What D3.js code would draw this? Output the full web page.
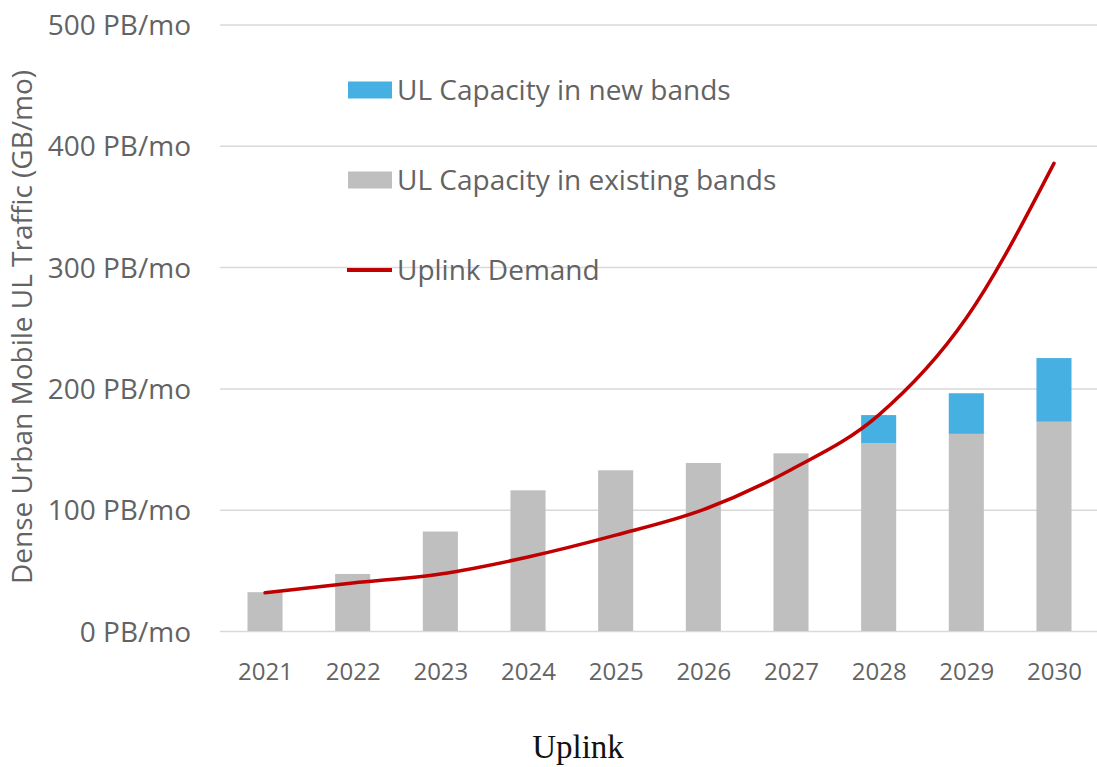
<!DOCTYPE html>
<html>
<head>
<meta charset="utf-8">
<script src="https://cdn.jsdelivr.net/npm/d3@7"></script>
<style>
  html, body { margin: 0; padding: 0; background: #fff; }
  svg { display: block; }
</style>
</head>
<body>
<svg id="chart" width="1097" height="767"></svg>
<script>
// ---- data ----
const years = ["2021","2022","2023","2024","2025","2026","2027","2028","2029","2030"];
const existingBands = [32, 47, 82, 116, 132.5, 138.5, 146.5, 155, 162.5, 172.5];
const newBands      = [0, 0, 0, 0, 0, 0, 0, 23, 33.5, 52.5];
const uplinkDemand  = [31.5, 39.5, 47, 61, 79, 100, 133, 178, 258, 385.5];
const yTicks = [0, 100, 200, 300, 400, 500];
const legendLabels = ["UL Capacity in new bands", "UL Capacity in existing bands", "Uplink Demand"];
const yAxisTitle = "Dense Urban Mobile UL Traffic (GB/mo)";
const chartCaption = "Uplink";

// ---- styling ----
const colGray = "#bfbfbf", colBlue = "#45b0e1", colRed = "#c00000";
const textCol = "#636363", gridCol = "#d9d9d9";
const font = "'Open Sans', 'Lato', sans-serif";

const svg = d3.select("#chart");
const x = d3.scalePoint().domain(years).range([221.2, 1097.8]).padding(0.5);
const y = d3.scaleLinear().domain([0, 500]).range([631, 24.5]);
const bw = x.step() * 0.4;

// gridlines + y tick labels via axis
const yAxis = d3.axisLeft(y).tickValues(yTicks)
  .tickSize(-(1097 - 220)).tickPadding(29)
  .tickFormat(d => d + " PB/mo");
const gy = svg.append("g").attr("transform", "translate(220,0)").call(yAxis);
gy.select(".domain").remove();
gy.selectAll(".tick line").attr("stroke", gridCol).attr("stroke-width", 1.5);
gy.selectAll(".tick text").attr("fill", textCol).style("font-family", font)
  .style("font-size", "28px").attr("dy", "0.36em");

// x axis labels
const xAxis = d3.axisBottom(x).tickSize(0).tickPadding(0);
const gx = svg.append("g").attr("transform", "translate(0,631)").call(xAxis);
gx.select(".domain").remove();
gx.selectAll(".tick text").attr("fill", textCol).style("font-family", font)
  .style("font-size", "24px").attr("y", 49).attr("dy", 0);

// bars
const data = years.map((yr, i) => ({yr, ex: existingBands[i], nw: newBands[i], dm: uplinkDemand[i]}));
svg.append("g").selectAll("rect").data(data).join("rect")
  .attr("x", d => x(d.yr) - bw / 2).attr("width", bw)
  .attr("y", d => y(d.ex)).attr("height", d => y(0) - y(d.ex))
  .attr("fill", colGray);
svg.append("g").selectAll("rect").data(data.filter(d => d.nw > 0)).join("rect")
  .attr("x", d => x(d.yr) - bw / 2).attr("width", bw)
  .attr("y", d => y(d.ex + d.nw)).attr("height", d => y(d.ex) - y(d.ex + d.nw))
  .attr("fill", colBlue);

// demand line
const line = d3.line().x(d => x(d.yr)).y(d => y(d.dm)).curve(d3.curveMonotoneX);
svg.append("path").datum(data).attr("d", line)
  .attr("fill", "none").attr("stroke", colRed).attr("stroke-width", 3.5)
  .attr("stroke-linecap", "round");

// legend
const lg = svg.append("g");
const rows = [90, 180, 270];
lg.append("rect").attr("x", 348).attr("y", rows[0] - 8.5).attr("width", 44).attr("height", 17).attr("fill", colBlue);
lg.append("rect").attr("x", 348).attr("y", rows[1] - 8.5).attr("width", 44).attr("height", 17).attr("fill", colGray);
lg.append("line").attr("x1", 347).attr("x2", 392).attr("y1", rows[2]).attr("y2", rows[2])
  .attr("stroke", colRed).attr("stroke-width", 4);
legendLabels.forEach((t, i) => {
  lg.append("text").attr("x", 397).attr("y", rows[i] + 10)
    .attr("fill", textCol).style("font-family", font).style("font-size", "28px").text(t);
});

// y axis title
svg.append("text").attr("transform", "translate(32,327) rotate(-90)")
  .attr("text-anchor", "middle").attr("fill", textCol)
  .style("font-family", font).style("font-size", "28px").text(yAxisTitle);

// caption
svg.append("text").attr("x", 578).attr("y", 758).attr("text-anchor", "middle")
  .attr("fill", "#111").style("font-family", "'Liberation Serif', 'DejaVu Serif', serif")
  .style("font-size", "33px").text(chartCaption);
</script>
</body>
</html>
